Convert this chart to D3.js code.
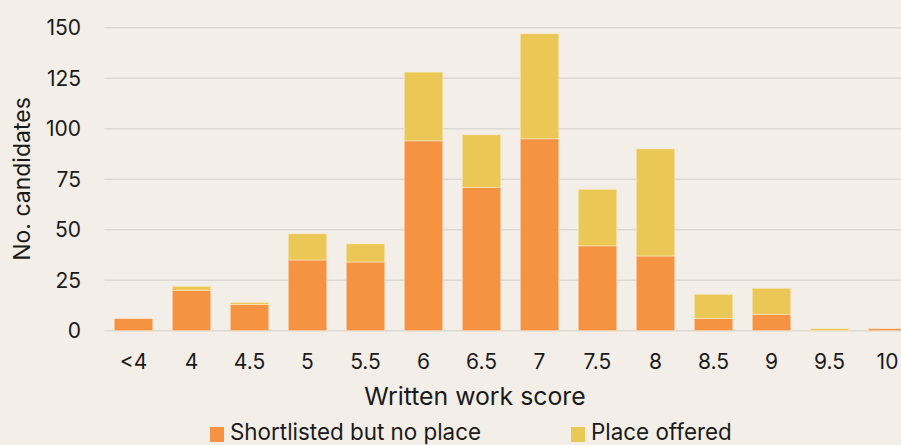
<!DOCTYPE html>
<html>
<head>
<meta charset="utf-8">
<script src="https://cdn.jsdelivr.net/npm/d3@7"></script>
<style>
  html, body { margin: 0; padding: 0; background: #f3eee8; }
  svg { display: block; }
  text { font-family: Inter, "Open Sans", sans-serif; fill: #1a1a1a; }
</style>
</head>
<body>
<div id="chart"></div>
<script>
// data
const scores = ['<4', '4', '4.5', '5', '5.5', '6', '6.5', '7', '7.5', '8', '8.5', '9', '9.5', '10'];
const shortlisted = [6, 20, 13, 35, 34, 94, 71, 95, 42, 37, 6, 8, 0, 1];
const offered = [0, 2, 1, 13, 9, 34, 26, 52, 28, 53, 12, 13, 1, 0];
const yTicks = [0, 25, 50, 75, 100, 125, 150];
const seriesNames = ['Shortlisted but no place', 'Place offered'];
const colors = ['#f59343', '#ebc855'];

const width = 901, height = 445;
const margins = { top: 28, left: 104.5, right: -15.5, bottom: 114 };

const svg = d3.select('#chart').append('svg')
    .attr('width', width)
    .attr('height', height);

svg.append('rect')
    .attr('width', width)
    .attr('height', height)
    .attr('fill', '#f3eee8');

const x = d3.scaleBand()
    .domain(scores)
    .range([margins.left, width - margins.right])
    .paddingInner(0.336)
    .paddingOuter(0.168);

const y = d3.scaleLinear()
    .domain([0, 150])
    .range([330.7, 27.7]);

// gridlines
svg.append('g')
    .selectAll('line')
    .data(yTicks)
    .enter()
    .append('line')
    .attr('x1', margins.left)
    .attr('x2', width)
    .attr('y1', d => y(d))
    .attr('y2', d => y(d))
    .attr('stroke', '#dcd9d5')
    .attr('stroke-width', 1.5);

// y tick labels
svg.append('g')
    .selectAll('text')
    .data(yTicks)
    .enter()
    .append('text')
    .attr('x', 81)
    .attr('y', d => y(d) + 7.5)
    .attr('text-anchor', 'end')
    .style('font-size', '21px')
    .text(d => d);

// stacked bars
const rows = scores.map((s, i) => ({ score: s, shortlisted: shortlisted[i], offered: offered[i] }));
const stack = d3.stack().keys(['shortlisted', 'offered'])(rows);

svg.append('g')
    .selectAll('g')
    .data(stack)
    .enter()
    .append('g')
    .attr('fill', (d, i) => colors[i])
    .selectAll('rect')
    .data(d => d.filter(p => p[1] > p[0]))
    .enter()
    .append('rect')
    .attr('x', d => x(d.data.score))
    .attr('width', x.bandwidth())
    .attr('y', d => y(d[1]))
    .attr('height', d => y(d[0]) - y(d[1]))
    .attr('stroke', 'rgba(255,240,220,0.6)')
    .attr('stroke-width', 0.8);

// x tick labels
svg.append('g')
    .selectAll('text')
    .data(scores)
    .enter()
    .append('text')
    .attr('x', d => x(d) + x.bandwidth() / 2)
    .attr('y', 369)
    .attr('text-anchor', 'middle')
    .style('font-size', '21px')
    .text(d => d);

// axis titles
svg.append('text')
    .attr('x', 475)
    .attr('y', 404.5)
    .attr('text-anchor', 'middle')
    .style('font-size', '24.8px')
    .text('Written work score');

svg.append('text')
    .attr('transform', 'translate(30,179) rotate(-90)')
    .attr('text-anchor', 'middle')
    .style('font-size', '23px')
    .text('No. candidates');

// legend
const legendX = [210, 571];
const legend = svg.append('g')
    .selectAll('g')
    .data(seriesNames)
    .enter()
    .append('g')
    .attr('transform', (d, i) => 'translate(' + legendX[i] + ',0)');

legend.append('rect')
    .attr('x', 0)
    .attr('y', 427)
    .attr('width', 14)
    .attr('height', 15)
    .attr('fill', (d, i) => colors[i]);

legend.append('text')
    .attr('x', 20)
    .attr('y', 439.5)
    .style('font-size', '22.4px')
    .text(d => d);
</script>
</body>
</html>
